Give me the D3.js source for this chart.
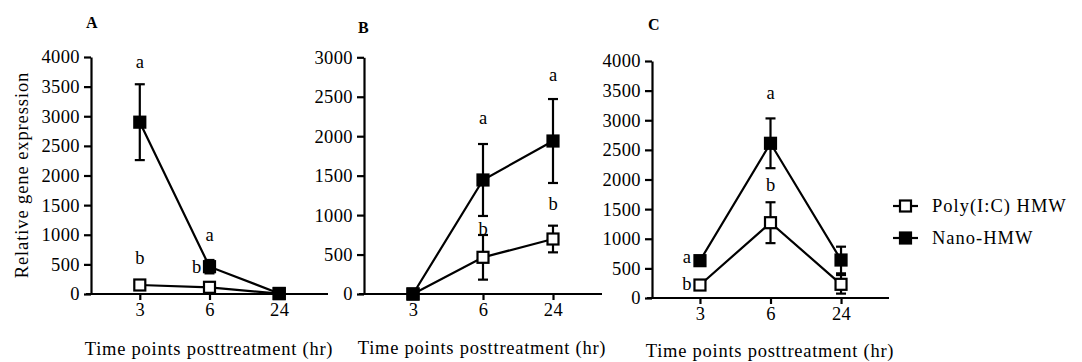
<!DOCTYPE html>
<html>
<head>
<meta charset="utf-8">
<script src="https://cdn.jsdelivr.net/npm/d3@7"></script>
<style>
  html, body { margin: 0; padding: 0; background: #fff; }
  svg { display: block; }
  text { font-family: "Liberation Serif", "Times New Roman", serif; fill: #000; }
</style>
</head>
<body>
<svg id="chart" width="1082" height="362"></svg>
<script>
// ---------- data ----------
const timePoints = ["3", "6", "24"];
const seriesNames = ["Poly(I:C) HMW", "Nano-HMW"];
const yTicksA = [0, 500, 1000, 1500, 2000, 2500, 3000, 3500, 4000];
const yTicksB = [0, 500, 1000, 1500, 2000, 2500, 3000];
const yTicksC = [0, 500, 1000, 1500, 2000, 2500, 3000, 3500, 4000];

// Panel A
const polyA = [152, 113, 5];
const polyErrA = [30, 20, 0];
const nanoA = [2900, 461, 10];
const nanoErrA = [640, 113, 0];
const lettersA = [
  { t: "3", y: 3930, s: "a", side: "c" },
  { t: "3", y: 608, s: "b", side: "c" },
  { t: "6", y: 996, s: "a", side: "c" },
  { t: "6", y: 456, s: "b", side: "l" }
];
// Panel B
const polyB = [0, 465, 697];
const polyErrB = [0, 283, 169];
const nanoB = [0, 1445, 1939];
const nanoErrB = [0, 456, 532];
const lettersB = [
  { t: "6", y: 2243, s: "a", side: "c" },
  { t: "24", y: 2788, s: "a", side: "c" },
  { t: "6", y: 836, s: "b", side: "c" },
  { t: "24", y: 1141, s: "b", side: "c" }
];
// Panel C
const polyC = [219, 1271, 231];
const polyErrC = [40, 345, 157];
const nanoC = [630, 2611, 641];
const nanoErrC = [40, 420, 225];
const lettersC = [
  { t: "6", y: 3460, s: "a", side: "c" },
  { t: "6", y: 1907, s: "b", side: "c" },
  { t: "3", y: 692, s: "a", side: "l" },
  { t: "3", y: 236, s: "b", side: "l" }
];

// ---------- drawing ----------
const svg = d3.select("#chart");
svg.append("rect").attr("width", 1082).attr("height", 362).attr("fill", "#fff");

const FS = 18.5;
const SW = 2.2;
const MS = 11;

function panel(cfg) {
  const g = svg.append("g");
  const x = d3.scalePoint().domain(timePoints).range([cfg.x0, cfg.x1]).padding(cfg.pad);
  const y = d3.scaleLinear().domain([0, cfg.ymax]).range([cfg.y0, cfg.y1]);

  const ya = g.append("g").attr("transform", `translate(${cfg.x0},0)`)
    .call(d3.axisLeft(y).tickValues(cfg.yTicks).tickSize(7).tickPadding(4).tickSizeOuter(0).tickFormat(d3.format("d")));
  const xa = g.append("g").attr("transform", `translate(0,${cfg.y0})`)
    .call(d3.axisBottom(x).tickSize(6).tickPadding(cfg.xPad).tickSizeOuter(0));
  [ya, xa].forEach(a => {
    a.attr("font-family", null).attr("font-size", null);
    a.select(".domain").attr("stroke", "#000").attr("stroke-width", SW);
    a.selectAll(".tick line").attr("stroke", "#000").attr("stroke-width", SW);
    a.selectAll(".tick text").attr("font-family", "Liberation Serif").attr("font-size", FS)
      .attr("letter-spacing", 0.4).attr("fill", "#000");
  });
  xa.select(".domain").attr("d", `M${cfg.x0 - 5},0H${cfg.x1}`);

  g.append("text").attr("x", cfg.labX).attr("y", cfg.labY).attr("font-size", 16)
    .attr("font-weight", "bold").text(cfg.label);

  g.append("text").attr("x", cfg.titleX).attr("y", cfg.titleY).attr("text-anchor", "middle")
    .attr("font-size", FS).attr("letter-spacing", 0.75).text("Time points posttreatment (hr)");

  const series = [
    { vals: cfg.poly, errs: cfg.polyErr, fill: "#fff" },
    { vals: cfg.nano, errs: cfg.nanoErr, fill: "#000" }
  ];
  series.forEach(s => {
    s.vals.forEach((v, i) => {
      const e = s.errs[i];
      if (e <= 0) return;
      const cx = x(timePoints[i]);
      const top = y(v + e), bot = y(Math.max(0, v - e));
      g.append("line").attr("x1", cx).attr("x2", cx).attr("y1", top).attr("y2", bot)
        .attr("stroke", "#000").attr("stroke-width", SW);
      [top, bot].forEach(yy => g.append("line").attr("x1", cx - 5).attr("x2", cx + 5)
        .attr("y1", yy).attr("y2", yy).attr("stroke", "#000").attr("stroke-width", SW));
    });
  });
  const line = d3.line().x((d, i) => x(timePoints[i])).y(d => y(d));
  series.forEach(s => {
    g.append("path").datum(s.vals).attr("d", line).attr("fill", "none")
      .attr("stroke", "#000").attr("stroke-width", SW);
  });
  series.forEach(s => {
    s.vals.forEach((v, i) => {
      g.append("rect").attr("x", x(timePoints[i]) - MS / 2).attr("y", y(v) - MS / 2)
        .attr("width", MS).attr("height", MS).attr("fill", s.fill)
        .attr("stroke", "#000").attr("stroke-width", SW);
    });
  });
  cfg.letters.forEach(L => {
    const cx = x(L.t) + (L.side === "l" ? -13 : 0);
    g.append("text").attr("x", cx).attr("y", y(L.y)).attr("dy", "0.35em")
      .attr("text-anchor", "middle").attr("font-size", FS).text(L.s);
  });
}

panel({ label: "A", labX: 86, labY: 28, x0: 91, x1: 328, pad: 0.7, y0: 294, y1: 57, ymax: 4000,
  yTicks: yTicksA, xPad: 3, titleX: 209, titleY: 355,
  poly: polyA, polyErr: polyErrA, nano: nanoA, nanoErr: nanoErrA, letters: lettersA });
panel({ label: "B", labX: 358, labY: 33, x0: 364, x1: 602, pad: 0.7, y0: 294, y1: 57.3, ymax: 3000,
  yTicks: yTicksB, xPad: 3, titleX: 482, titleY: 354,
  poly: polyB, polyErr: polyErrB, nano: nanoB, nanoErr: nanoErrB, letters: lettersB });
panel({ label: "C", labX: 648, labY: 30, x0: 652, x1: 889, pad: 0.68, y0: 298, y1: 61, ymax: 4000,
  yTicks: yTicksC, xPad: 3, titleX: 770, titleY: 357,
  poly: polyC, polyErr: polyErrC, nano: nanoC, nanoErr: nanoErrC, letters: lettersC });

svg.append("text").attr("transform", "translate(28,175) rotate(-90)").attr("text-anchor", "middle")
  .attr("font-size", FS).attr("letter-spacing", 0.9).text("Relative gene expression");

const legY = [206, 238];
const legFill = ["#fff", "#000"];
seriesNames.forEach((name, i) => {
  const lg = svg.append("g").attr("transform", `translate(0,${legY[i]})`);
  lg.append("line").attr("x1", 893).attr("x2", 918).attr("y1", 0).attr("y2", 0)
    .attr("stroke", "#000").attr("stroke-width", SW);
  lg.append("rect").attr("x", 905.5 - MS / 2).attr("y", -MS / 2).attr("width", MS).attr("height", MS)
    .attr("fill", legFill[i]).attr("stroke", "#000").attr("stroke-width", SW);
  lg.append("text").attr("x", 932).attr("y", 0).attr("dy", "0.35em").attr("font-size", FS)
    .attr("letter-spacing", 1.0).text(name);
});
</script>
</body>
</html>
